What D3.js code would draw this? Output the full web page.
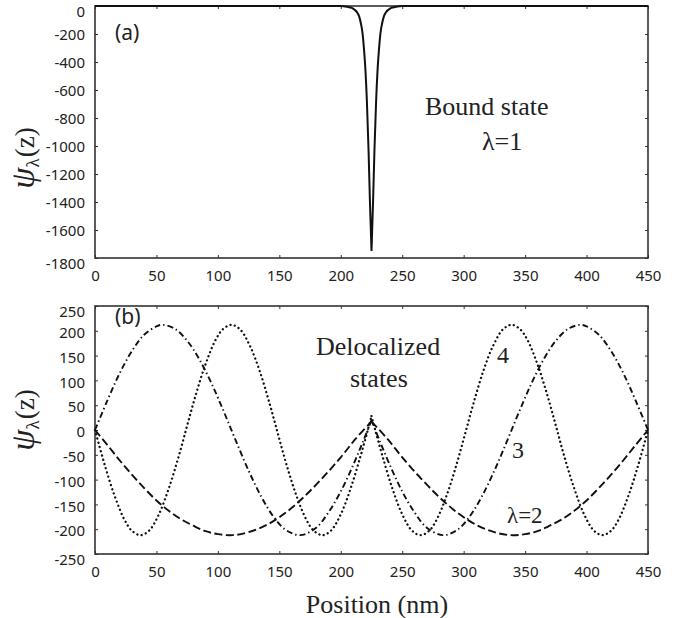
<!DOCTYPE html>
<html><head><meta charset="utf-8">
<script src="https://cdn.jsdelivr.net/npm/d3@7"></script>
<style>
html,body{margin:0;padding:0;background:#fff;}
svg{display:block;}
</style></head>
<body>
<svg id="c" width="677" height="618"></svg>
<script>
// ---------- data ----------
const xTicks = [0,50,100,150,200,250,300,350,400,450];
const yTicksA = [0,-200,-400,-600,-800,-1000,-1200,-1400,-1600,-1800];
const yTicksB = [250,200,150,100,50,0,-50,-100,-150,-200,-250];

// (a) bound state, lambda = 1 (left half and right half meet in a cusp at 225 nm)
const boundLeftX  = [0,100,200,205,209,211.5,213,215,216.5,217.7,219,219.9,221.2,222.6,223.7,225];
const boundLeftY  = [0,0,0,-5,-14,-29,-42,-76,-130,-193,-320,-433,-670,-1030,-1390,-1750];
const boundRightX = [225,226.3,227.4,228.8,230.1,231,232.3,233.5,235,237,238.5,241,245,250,350,450];
const boundRightY = [-1750,-1390,-1030,-670,-433,-320,-193,-130,-76,-42,-29,-14,-5,0,0,0];

// (b) delocalized states
const l2LeftX  = [0,10,20,30,40,50,60,70,80,90,100,112,125,140,155,170,185,200,212,225];
const l2LeftY  = [0,-30,-61,-90,-117,-142,-163,-180,-193,-204,-210,-212,-206,-191,-167,-135,-97,-55,-18,17];
const l2RightX = [225,238,250,265,280,295,310,325,338,350,360,370,380,390,400,410,420,430,440,450];
const l2RightY = [17,-18,-55,-97,-135,-167,-191,-206,-212,-210,-204,-193,-180,-163,-142,-117,-90,-61,-30,0];

const l3LeftX  = [0,10,20,30,40,50,55,65,75,85,95,105,115,125,135,145,155,167,180,190,200,210,218,225];
const l3LeftY  = [0,59,114,159,192,209,212,204,180,142,93,36,-24,-82,-133,-174,-201,-212,-197,-166,-124,-71,-24,20];
const l3RightX = [225,232,240,250,260,270,283,295,305,315,325,335,345,355,365,375,385,395,400,410,420,430,440,450];
const l3RightY = [20,-24,-71,-124,-166,-197,-212,-201,-174,-133,-82,-24,36,93,142,180,204,212,209,192,159,114,59,0];

const l4LeftX  = [0,8,16,24,30,37,44,52,60,68,75,82,90,98,104,111,118,126,134,142,149,156,164,172,178,185,192,200,208,216,222,225];
const l4LeftY  = [0,-71,-133,-181,-203,-212,-203,-170,-118,-54,9,71,133,181,203,212,203,170,119,54,-9,-71,-133,-181,-203,-212,-203,-170,-118,-53,0,28];
const l4RightX = [225,228,234,242,250,258,265,272,278,286,294,301,308,316,324,332,339,346,352,360,368,375,382,390,398,406,413,420,426,434,442,450];
const l4RightY = [28,0,-53,-118,-170,-203,-212,-203,-181,-133,-71,-9,54,119,170,203,212,203,181,133,71,9,-54,-118,-170,-203,-212,-203,-181,-133,-71,0];

// ---------- layout ----------
const svg = d3.select("#c");
const L = 95, R = 648;
const A = {top: 6, bottom: 258};
const B = {top: 306, bottom: 554};
const x = d3.scaleLinear().domain([0,450]).range([L,R]);
const yA = d3.scaleLinear().domain([-1800,0]).range([A.bottom, A.top]);
const yB = d3.scaleLinear().domain([-250,250]).range([B.bottom, B.top]);

const SANS = "Noto Sans";
const SERIF = "Liberation Serif";
const frameColor = "#333";
const fmt = d => String(d);

function zip(xs, ys){ return xs.map((v,i)=>[v, ys[i]]); }

function panel(y, yTicks, box, labelShift){
  const g = svg.append("g");
  const gb = g.append("g").attr("transform",`translate(0,${box.bottom})`)
    .call(d3.axisBottom(x).tickValues(xTicks).tickFormat(fmt).tickSize(-3).tickPadding(12).tickSizeOuter(0));
  const gt = g.append("g").attr("transform",`translate(0,${box.top})`)
    .call(d3.axisTop(x).tickValues(xTicks).tickSize(-3).tickFormat("").tickSizeOuter(0));
  const gl = g.append("g").attr("transform",`translate(${L},0)`)
    .call(d3.axisLeft(y).tickValues(yTicks).tickFormat(fmt).tickSize(-3).tickPadding(10).tickSizeOuter(0));
  const gr = g.append("g").attr("transform",`translate(${R},0)`)
    .call(d3.axisRight(y).tickValues(yTicks).tickSize(-3).tickFormat("").tickSizeOuter(0));
  [gb,gt,gl,gr].forEach(a=>{
    a.attr("font-family",SANS).attr("font-size",15);
    a.select(".domain").remove();
    a.selectAll(".tick line").attr("stroke",frameColor).attr("stroke-width",1);
    a.selectAll("text").attr("fill","#222");
  });
  gl.selectAll(".tick text").attr("dy",(d,i)=> labelShift(d,i));
  g.append("rect").attr("x",L).attr("y",box.top).attr("width",R-L).attr("height",box.bottom-box.top)
    .attr("fill","none").attr("stroke",frameColor).attr("stroke-width",1.6);
  return g;
}

panel(yA, yTicksA, A, (d,i)=> (d===0 || d===-1800) ? "0.7em" : "0.38em");
panel(yB, yTicksB, B, (d,i)=> (d===250 || d===-250) ? "0.7em" : "0.45em");

// ---------- curves ----------
const lineA = d3.line().x(d=>x(d[0])).y(d=>yA(d[1])).curve(d3.curveMonotoneX);
svg.append("path")
  .attr("d", lineA(zip(boundLeftX,boundLeftY)) + lineA(zip(boundRightX,boundRightY)))
  .attr("fill","none").attr("stroke","#111").attr("stroke-width",2).attr("stroke-linejoin","round");

const lineB = d3.line().x(d=>x(d[0])).y(d=>yB(d[1])).curve(d3.curveCatmullRom.alpha(0.5));
function drawB(lx,ly,rx,ry,dash,cap,w){
  svg.append("path")
    .attr("d", lineB(zip(lx,ly)) + lineB(zip(rx,ry)))
    .attr("fill","none").attr("stroke","#111").attr("stroke-width",w)
    .attr("stroke-dasharray",dash).attr("stroke-linecap",cap);
}
drawB(l2LeftX,l2LeftY,l2RightX,l2RightY,"8,3.5","butt",1.9);
drawB(l3LeftX,l3LeftY,l3RightX,l3RightY,"6,3,1.4,3","butt",1.9);
drawB(l4LeftX,l4LeftY,l4RightX,l4RightY,"0.1,4.3","round",2.3);

// ---------- texts ----------
function txt(t, xx, yy, size, fam, anchor){
  return svg.append("text").attr("x",xx).attr("y",yy).attr("font-size",size)
    .attr("font-family",fam).attr("fill","#222").attr("text-anchor",anchor||"start").text(t);
}
txt("(a)",115,40,21,SANS);
txt("(b)",115,324,21,SANS);
txt("Bound state",425,115,26,SERIF);
txt("λ=1",482,150,26,SERIF);
txt("Delocalized",316,355,26,SERIF);
txt("states",350,387,26,SERIF);
txt("4",497,363,24,SERIF);
txt("3",512,458,24,SERIF);
txt("λ=2",507,523,23,SERIF);
txt("Position (nm)",377,613,26,SERIF,"middle");

function ylab(cy){
  const t = svg.append("text").attr("transform",`translate(34,${cy}) rotate(-90)`)
    .attr("text-anchor","middle").attr("font-family",SERIF).attr("fill","#222");
  t.append("tspan").attr("font-style","italic").attr("font-size",34).text("ψ");
  t.append("tspan").attr("font-size",19).attr("dy",5).text("λ");
  t.append("tspan").attr("font-size",27).attr("dy",-5).attr("dx",1).text("(z)");
}
ylab(158);
ylab(420);
</script>
</body></html>
